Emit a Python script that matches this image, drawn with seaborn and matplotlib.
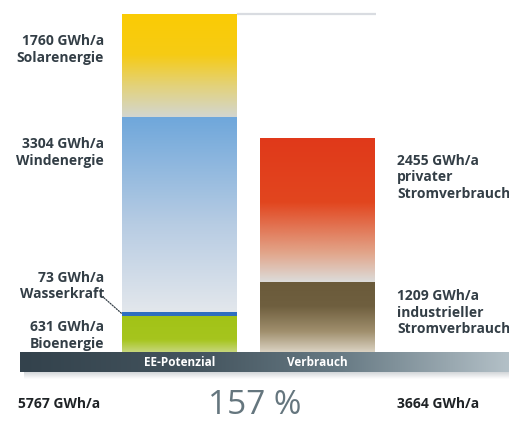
import numpy as np
import matplotlib
matplotlib.use("Agg")
import matplotlib.pyplot as plt
import seaborn as sns
from matplotlib.colors import LinearSegmentedColormap

# Werte (GWh/a)
ee_names = ["Bioenergie", "Wasserkraft", "Windenergie", "Solarenergie"]
ee_values = [631, 73, 3304, 1760]
use_names = ["industrieller\nStromverbrauch", "privater\nStromverbrauch"]
use_values = [1209, 2455]
bar_labels = ["EE-Potenzial", "Verbrauch"]
ee_total = 5767      # so in der Vorlage angegeben (gerundet)
use_total = 3664
share = 157

# Farbverlaeufe (unten -> oben)
ee_grads = [
    [(0, "#c9d883"), (0.35, "#a6c51e"), (1, "#a2c316")],
    [(0, "#2f6fc0"), (1, "#2f6fc0")],
    [(0, "#e3e7ec"), (0.45, "#b7cce3"), (1, "#6fa7db")],
    [(0, "#d3d6d0"), (0.3, "#e3d27a"), (0.6, "#f6cb14"), (1, "#fbcc04")],
]
use_grads = [
    [(0, "#ddd5c6"), (0.3, "#a08f6d"), (0.65, "#6f5f3f"), (1, "#6a5a3a")],
    [(0, "#dcdcda"), (0.2, "#e2a58a"), (0.55, "#e2461f"), (1, "#e0391a")],
]

sns.set_theme(style="white")
plt.rcParams["font.family"] = ["Open Sans", "DejaVu Sans"]
TXT = "#333e46"

W, H = 509, 424
fig = plt.figure(figsize=(W / 100, H / 100), dpi=100)
ax = fig.add_axes([0, 0, 1, 1])
ax.set_axis_off()

g_per_px = ee_total / 339.0
XLIM = (-179.5 / 138, (W - 179.5) / 138)
YLIM = (-(H - 353) * g_per_px, 353 * g_per_px)
width = 115 / 138


def grad_fill(patch, stops):
    cmap = LinearSegmentedColormap.from_list("g", stops)
    x0, y0 = patch.get_x(), patch.get_y()
    x1, y1 = x0 + patch.get_width(), y0 + patch.get_height()
    img = ax.imshow(np.linspace(0, 1, 256).reshape(-1, 1), cmap=cmap,
                    origin="lower", aspect="auto", extent=[x0, x1, y0, y1],
                    interpolation="bicubic", zorder=2)
    img.set_clip_path(patch)
    patch.set_facecolor("none")
    patch.set_edgecolor("none")


def stack(xpos, values, grads):
    bottom = 0
    for v, gr in zip(values, grads):
        p = ax.bar(xpos, v, width=width, bottom=bottom, linewidth=0)[0]
        grad_fill(p, gr)
        bottom += v


stack(0, ee_values, ee_grads)
stack(1, use_values, use_grads)

# Linie auf Hoehe des EE-Potenzials
ax.hlines(sum(ee_values), width / 2, 1 + width / 2 + 0.01, color="#d9dce1", lw=1.6, zorder=1)

# Grundband
band = np.linspace(0, 1, 256).reshape(1, -1)
band_cmap = LinearSegmentedColormap.from_list(
    "band", [(0, "#33424c"), (0.35, "#43535d"), (0.65, "#667983"), (1, "#b3c0c7")])
ax.imshow(band, cmap=band_cmap, aspect="auto",
          extent=[20 / W, 1, 1 - 372 / H, 1 - 353 / H],
          transform=ax.transAxes, zorder=3)
shadow = LinearSegmentedColormap.from_list("sh", ["#ffffff", "#c8ccd0"])
ax.imshow(np.linspace(0, 1, 64).reshape(-1, 1), cmap=shadow, aspect="auto",
          origin="lower", extent=[24 / W, 1, 1 - 379 / H, 1 - 372 / H],
          transform=ax.transAxes, zorder=2, alpha=0.8)
ax.set_xlim(*XLIM)
ax.set_ylim(*YLIM)

band_y = -9.5 * g_per_px
for i, lab in enumerate(bar_labels):
    ax.text(i, band_y, lab, color="white", fontsize=8.5, fontweight="bold",
            ha="center", va="center", zorder=4)

# Beschriftungen links
fs = 10
lx = -width / 2 - 18 / 138
cum = np.cumsum(ee_values)
kw = dict(fontsize=fs, fontweight="bold", color=TXT, linespacing=1.25)
ax.text(lx, cum[3] - 20 * g_per_px, f"{ee_values[3]} GWh/a\n{ee_names[3]}",
        ha="right", va="top", **kw)
ax.text(lx, cum[2] - 20 * g_per_px, f"{ee_values[2]} GWh/a\n{ee_names[2]}",
        ha="right", va="top", **kw)
ax.text(lx, cum[1] + 41 * g_per_px, f"{ee_values[1]} GWh/a\n{ee_names[1]}",
        ha="right", va="top", **kw)
ax.text(lx, cum[0] - 4 * g_per_px, f"{ee_values[0]} GWh/a\n{ee_names[0]}",
        ha="right", va="top", **kw)
ax.annotate("", xy=(-width / 2, ee_values[0] + ee_values[1] / 2),
            xytext=(-13, 11.5), textcoords="offset points",
            arrowprops=dict(arrowstyle="-", linestyle=(0, (1, 1.2)), color=TXT,
                            lw=0.9, shrinkA=0, shrinkB=0))

# Beschriftungen rechts
rx = 1 + width / 2 + 22 / 138
ucum = np.cumsum(use_values)
ax.text(rx, ucum[1] - 16 * g_per_px, f"{use_values[1]} GWh/a\n{use_names[1]}",
        ha="left", va="top", **kw)
ax.text(rx, ucum[0] - 7 * g_per_px, f"{use_values[0]} GWh/a\n{use_names[0]}",
        ha="left", va="top", **kw)

# Summen unten
ax.text(18 / W, 1 - 404 / H, f"{ee_total} GWh/a", transform=ax.transAxes,
        ha="left", va="center", fontsize=fs, fontweight="bold", color="#1f2326")
ax.text(rx, -51 * g_per_px, f"{use_total} GWh/a", ha="left", va="center",
        fontsize=fs, fontweight="bold", color="#1f2326")
ax.text(255 / W, 1 - 406 / H, f"{share} %", transform=ax.transAxes,
        ha="center", va="center", fontsize=24, color="#65767e")

fig.savefig("out.png", dpi=100)
